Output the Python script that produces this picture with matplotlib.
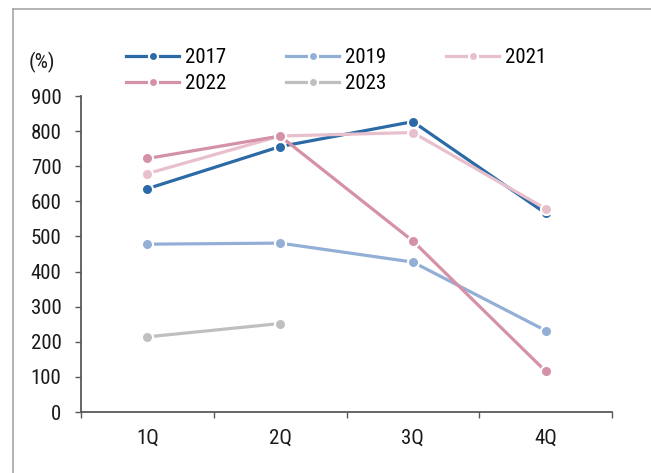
import matplotlib
matplotlib.use('Agg')
import matplotlib.pyplot as plt
from matplotlib.lines import Line2D

plt.rcParams['font.family'] = ['Roboto Condensed', 'DejaVu Sans']

quarters = ['1Q', '2Q', '3Q', '4Q']
y2017 = [636, 756, 827, 566]
y2019 = [478, 481, 427, 232]
y2021 = [679, 786, 796, 579]
y2022 = [722, 786, 487, 116]
y2023 = [214, 252]

series = [
    ('2017', y2017, '#2B6AA6'),
    ('2019', y2019, '#93AFD6'),
    ('2021', y2021, '#E8BFCC'),
    ('2022', y2022, '#D591A6'),
    ('2023', y2023, '#BFBFBF'),
]

fig = plt.figure(figsize=(6.51, 4.73), dpi=100)
ax = fig.add_axes([81 / 651, 61 / 473, 531 / 651, 316 / 473])

x = list(range(len(quarters)))
for name, vals, col in series:
    ax.plot(x[:len(vals)], vals, color=col, lw=2.3, marker='o', ms=8,
            mfc=col, mec='white', mew=1.5, solid_capstyle='butt', zorder=3)

ax.set_xlim(-0.5, 3.5)
ax.set_ylim(0, 900)
ax.set_yticks(range(0, 1000, 100))
ax.set_xticks([-0.5, 0.5, 1.5, 2.5, 3.5])
ax.set_xticklabels([])
ax.set_xticks(x, minor=True)
ax.set_xticklabels(quarters, minor=True)

spine_col = '#595959'
for s in ['top', 'right']:
    ax.spines[s].set_visible(False)
for s in ['left', 'bottom']:
    ax.spines[s].set_color(spine_col)
    ax.spines[s].set_linewidth(1.3)

fs = 15
ax.tick_params(axis='y', direction='out', length=4, width=1, color=spine_col,
               labelsize=fs, pad=10, labelcolor='#1a1a1a')
ax.tick_params(axis='x', which='major', direction='out', length=4, width=1, color=spine_col)
ax.tick_params(axis='x', which='minor', length=0, labelsize=fs, pad=12, labelcolor='#1a1a1a')

fig.text(42 / 651, 1 - 62 / 473, '(%)', fontsize=fs, ha='center', va='center', color='#1a1a1a')

# legend: column-wise order so that rows read 2017 2019 2021 / 2022 2023
order = ['2017', '2022', '2019', '2023', '2021']
lookup = {n: c for n, v, c in series}
handles = [Line2D([], [], color=lookup[n], lw=2.3, marker='o', ms=6.5,
                  mfc=lookup[n], mec='white', mew=1.5) for n in order]
fig.legend(handles, order, loc='upper left', bbox_to_anchor=(126 / 651, 1 - 48 / 473),
           ncol=3, frameon=False, fontsize=fs, handlelength=2.55, handletextpad=0.3,
           columnspacing=2.85, labelspacing=0.35, borderpad=0, borderaxespad=0)

# outer frame (top and left edges)
fig.add_artist(Line2D([13 / 651, 13 / 651], [0, 1 - 9 / 473], transform=fig.transFigure,
                      color='#A6A6A6', lw=1.2))
fig.add_artist(Line2D([13 / 651, 1], [1 - 9 / 473, 1 - 9 / 473], transform=fig.transFigure,
                      color='#A6A6A6', lw=1.2))

fig.savefig('out.png', dpi=100)
